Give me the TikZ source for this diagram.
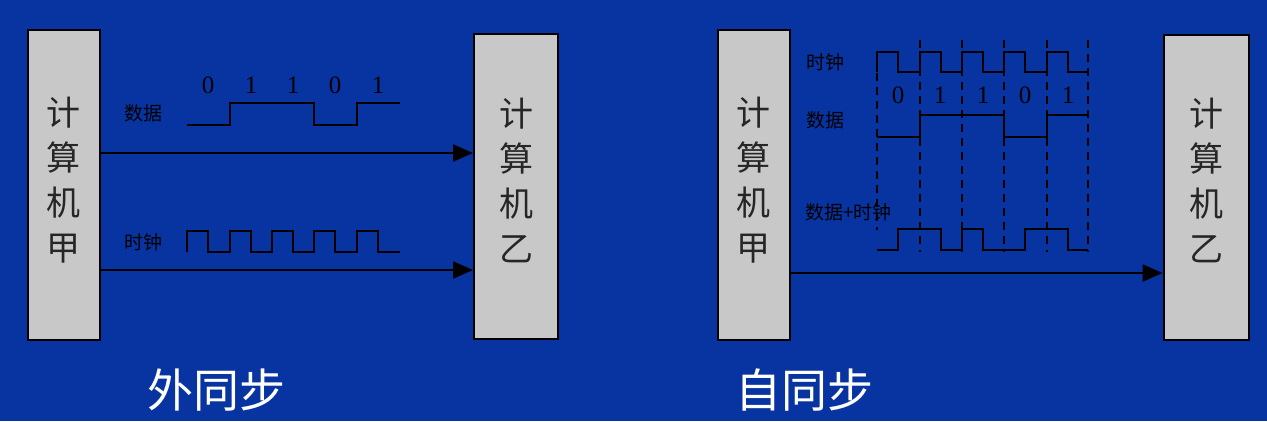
\documentclass[tikz,border=0pt]{standalone}
\usepackage{fontspec}
\setmainfont{Liberation Serif}
\newfontfamily\cjk{Noto Sans CJK SC}
\usetikzlibrary{arrows.meta}
\definecolor{bgblue}{RGB}{8,52,162}
\definecolor{boxgray}{RGB}{200,200,200}
\tikzset{
  compbox/.style={draw=black, line width=2pt, fill=boxgray, align=center,
    font=\cjk\fontsize{34}{45}\selectfont, text=black!85, inner sep=0pt},
  wave/.style={line width=2.5pt, black, line join=miter},
  guide/.style={line width=1.4pt, black, dash pattern=on 8pt off 6pt},
  arr/.style={line width=2.4pt, black, -{Triangle[length=20pt,width=17pt]}},
  lbl/.style={font=\cjk\fontsize{19}{22}\selectfont, text=black, inner sep=0pt},
  digit/.style={font=\fontsize{25}{28}\selectfont, text=black, inner sep=0pt},
  title/.style={font=\cjk\fontsize{46}{50}\selectfont, text=white, inner sep=0pt}
}
\begin{document}
\begin{tikzpicture}[x=1pt,y=-1pt]
\fill[bgblue] (0,0) rectangle (1267,421);
\useasboundingbox (0,0) rectangle (1267,421);

% ---------- left: external sync ----------
\node[compbox, minimum width=72pt, minimum height=310pt] (A1) at (63.5,185) {};
\node[compbox, draw=none, fill=none] (A1t) at (63.5,180) {计\\算\\机\\甲};
\node[compbox, minimum width=84pt, minimum height=305pt] (B1) at (516,186.5) {};
\node[compbox, draw=none, fill=none] (B1t) at (516,180) {计\\算\\机\\乙};

\draw[arr] (A1.east |- 0,153) -- (B1.west |- 0,153);
\draw[arr] (A1.east |- 0,270) -- (B1.west |- 0,270);

\node[lbl] (L1) at (143,113) {数据};
\node[lbl] (L2) at (143,242) {时钟};
\node[digit] (d1) at (208,85) {0};
\node[digit] (d2) at (251,85) {1};
\node[digit] (d3) at (293,85) {1};
\node[digit] (d4) at (335,85) {0};
\node[digit] (d5) at (378,85) {1};

\draw[wave] (187,125) -- (230,125) -- (230,103) -- (314,103) -- (314,125)
  -- (357,125) -- (357,103) -- (400,103);
\draw[wave] (187,252) -- (187,231) -- (208,231) -- (208,252) -- (230,252)
  -- (230,231) -- (251,231) -- (251,252) -- (272,252) -- (272,231)
  -- (293,231) -- (293,252) -- (314,252) -- (314,231) -- (335,231)
  -- (335,252) -- (357,252) -- (357,231) -- (378,231) -- (378,252) -- (400,252);

\node[title] (T1) at (216,390) {外同步};

% ---------- right: self sync ----------
\node[compbox, minimum width=72pt, minimum height=310pt] (A2) at (753.5,185) {};
\node[compbox, draw=none, fill=none] (A2t) at (753.5,180) {计\\算\\机\\甲};
\node[compbox, minimum width=85pt, minimum height=305pt] (B2) at (1206,187) {};
\node[compbox, draw=none, fill=none] (B2t) at (1206,180) {计\\算\\机\\乙};

\draw[arr] (A2.east |- 0,273) -- (B2.west |- 0,273);

\node[lbl] (R1) at (825,62) {时钟};
\node[lbl] (R2) at (825,120) {数据};
\node[lbl, anchor=west] (R3) at (805,212) {数据+时钟};
\node[digit] (e1) at (898,95) {0};
\node[digit] (e2) at (940,95) {1};
\node[digit] (e3) at (983,95) {1};
\node[digit] (e4) at (1025,95) {0};
\node[digit] (e5) at (1068,95) {1};

\draw[guide] (877,73) -- (877,230);
\foreach \x in {920,962,1004,1047,1088}
  \draw[guide] (\x,40) -- (\x,252);

\draw[wave] (877,72) -- (877,52) -- (898,52) -- (898,72) -- (920,72)
  -- (920,52) -- (941,52) -- (941,72) -- (962,72) -- (962,52)
  -- (983,52) -- (983,72) -- (1004,72) -- (1004,52) -- (1025,52)
  -- (1025,72) -- (1047,72) -- (1047,52) -- (1068,52) -- (1068,72) -- (1088,72);
\draw[wave] (877,137) -- (920,137) -- (920,115) -- (1004,115) -- (1004,137)
  -- (1047,137) -- (1047,115) -- (1088,115);
\draw[wave] (877,250) -- (898,250) -- (898,229) -- (941,229) -- (941,250)
  -- (962,250) -- (962,229) -- (983,229) -- (983,250) -- (1025,250)
  -- (1025,229) -- (1068,229) -- (1068,250) -- (1088,250);

\node[title] (T2) at (804,390) {自同步};
\end{tikzpicture}
\end{document}
